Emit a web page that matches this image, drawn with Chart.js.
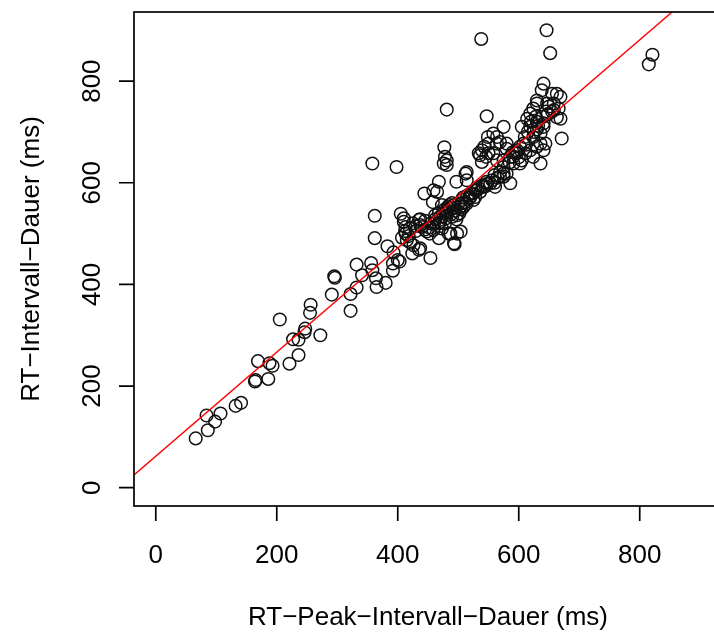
<!DOCTYPE html>
<html><head><meta charset="utf-8">
<script src="https://cdn.jsdelivr.net/npm/chart.js@4/dist/chart.umd.min.js"></script>
<style>
html,body{margin:0;padding:0;overflow:hidden;background:#fff;width:714px;height:633px}
#wrap{width:730px;height:633px}
</style></head>
<body><div id="wrap"><canvas id="c" width="730" height="633"></canvas></div>
<script>
// RT-Peak interval duration (x, ms)
const peakDuration = [
66,86,84,98,107,132,141,164,165,186,169,188,193,221,236,227,236,247,246,272,
205,256,255,291,322,322,295,296,332,332,341,356,358,364,365,380,362,362,383,393,
400,392,392,403,405,410,413,413,415,421,426,435,454,424,493,504,487,468,435,440,
448,462,467,484,498,481,503,514,437,473,470,437,437,410,453,358,398,481,547,538,
646,652,821,815,477,481,481,512,497,468,444,458,459,465,473,481,492,500,506,509,
490,498,494,459,470,476,478,523,528,536,525,542,547,556,561,536,539,550,558,564,
575,580,575,586,569,597,602,605,611,591,564,580,543,520,531,569,575,591,636,514,
514,553,580,597,586,602,630,619,644,636,641,658,663,647,630,624,619,614,605,575,
558,564,569,550,539,534,671,641,638,630,655,663,669,658,666,669,630,619,641,624,
636,641,608,624,549,546,
478,485,490,495,502,505,512,518,475,488,480,470,460,452,445,497,508,515,528,540,
548,560,565,575,590,600,610,615,625,630,640,645,650,655,620,628,420,425,430,418,
430,445,455,462,468,483,493,507,520,533,545,560,585,595,612,632,648,412,407,478
];
// RT interval duration (y, ms)
const intervalDuration = [
97,113,142,130,146,161,167,209,212,214,249,245,240,244,261,292,291,313,306,300,
331,360,344,380,348,381,416,413,439,394,418,442,428,412,395,403,535,491,475,463,
448,441,427,445,539,530,513,500,487,482,477,468,452,461,481,504,500,491,527,513,
504,536,520,500,500,546,553,559,471,510,527,528,517,523,500,638,631,744,731,883,
900,855,852,833,670,644,635,618,602,602,579,562,585,582,556,543,550,559,566,553,
533,536,479,507,533,638,651,579,572,582,566,592,602,605,592,654,641,658,658,644,
631,618,612,599,621,658,671,644,658,638,677,677,671,579,585,612,644,651,638,621,
605,599,667,664,651,638,671,664,677,697,717,743,729,756,756,746,736,726,710,710,
697,690,680,677,664,658,687,795,782,762,775,775,769,756,746,726,720,710,710,690,
677,664,677,651,690,651,
548,556,560,545,540,548,562,570,540,538,530,522,520,512,508,528,571,575,585,595,
598,600,610,618,660,650,690,700,700,705,730,740,750,740,720,730,510,520,505,495,
515,525,520,528,540,552,556,560,572,590,593,615,640,660,675,712,735,505,492,520
];
const xTicks = [0, 200, 400, 600, 800];
const yTicks = [0, 200, 400, 600, 800];
const axisRange = [-36, 936];
const fitIntercept = 62;
const fitSlope = 1.024;
const xTitle = "RT\u2212Peak\u2212Intervall\u2212Dauer (ms)";
const yTitle = "RT\u2212Intervall\u2212Dauer (ms)";

const points = peakDuration.map((v, i) => ({x: v, y: intervalDuration[i]}));
const fitPoints = axisRange.map(v => ({x: v, y: fitIntercept + fitSlope * v}));

const FONT = '26px "Liberation Sans", Arial, sans-serif';

const rAxes = {
  id: 'rAxes',
  afterDraw(chart) {
    const {ctx, chartArea: a, scales: {x, y}} = chart;
    ctx.save();
    ctx.strokeStyle = '#000';
    ctx.lineWidth = 1.7;
    ctx.strokeRect(a.left, a.top, a.right - a.left, a.bottom - a.top);
    ctx.beginPath();
    xTicks.forEach(v => {
      const px = x.getPixelForValue(v);
      ctx.moveTo(px, a.bottom); ctx.lineTo(px, a.bottom + 15);
    });
    yTicks.forEach(v => {
      const py = y.getPixelForValue(v);
      ctx.moveTo(a.left, py); ctx.lineTo(a.left - 15, py);
    });
    ctx.stroke();
    ctx.fillStyle = '#000';
    ctx.font = FONT;
    ctx.textAlign = 'center';
    ctx.textBaseline = 'alphabetic';
    xTicks.forEach(v => ctx.fillText(String(v), x.getPixelForValue(v), a.bottom + 57));
    yTicks.forEach(v => {
      ctx.save();
      ctx.translate(a.left - 34, y.getPixelForValue(v));
      ctx.rotate(-Math.PI / 2);
      ctx.fillText(String(v), 0, 0);
      ctx.restore();
    });
    ctx.fillText(xTitle, (a.left + a.right) / 2, a.bottom + 119);
    ctx.save();
    ctx.translate(a.left - 95, (a.top + a.bottom) / 2);
    ctx.rotate(-Math.PI / 2);
    ctx.fillText(yTitle, 0, 0);
    ctx.restore();
    ctx.restore();
  }
};

new Chart(document.getElementById('c'), {
  type: 'scatter',
  data: {
    datasets: [
      {
        type: 'line',
        data: fitPoints,
        borderColor: '#ff0000',
        borderWidth: 1.4,
        pointRadius: 0,
        fill: false,
        tension: 0
      },
      {
        type: 'scatter',
        data: points,
        pointStyle: 'circle',
        pointRadius: 6.3,
        backgroundColor: 'rgba(0,0,0,0)',
        borderColor: '#111',
        borderWidth: 1.5
      }
    ]
  },
  options: {
    responsive: false,
    animation: false,
    devicePixelRatio: 1,
    layout: {padding: {left: 134, top: 12, right: 8, bottom: 127}},
    plugins: {legend: {display: false}, tooltip: {enabled: false}},
    scales: {
      x: {type: 'linear', min: axisRange[0], max: axisRange[1], display: false},
      y: {type: 'linear', min: axisRange[0], max: axisRange[1], display: false}
    }
  },
  plugins: [rAxes]
});
</script>
</body></html>
